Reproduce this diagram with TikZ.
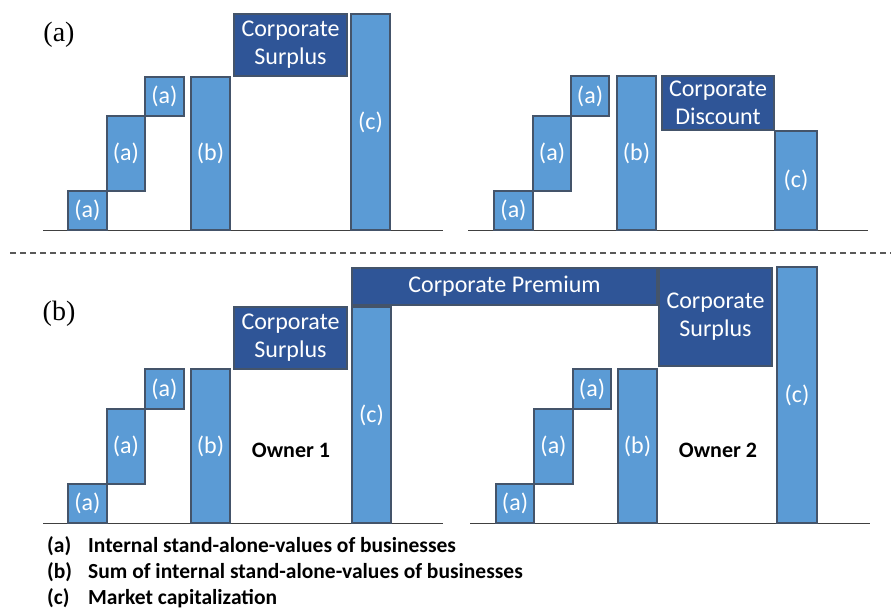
\documentclass[tikz,border=0pt]{standalone}
\usepackage{fontspec}
\setmainfont{Carlito}
\newfontfamily\seriffont{Liberation Serif}
\definecolor{lightbar}{HTML}{5B9BD5}
\definecolor{darkbox}{HTML}{2F5597}
\definecolor{edge}{HTML}{44546A}
\definecolor{dashgray}{HTML}{595959}
\begin{document}
\begin{tikzpicture}[x=1pt,y=-1pt,
  bar/.style={draw=edge, line width=1.5pt, fill=lightbar, text=white, inner sep=0pt, outer sep=0pt, anchor=south west, font=\fontsize{24}{28}\selectfont},
  dbox/.style={draw=edge, line width=1.5pt, fill=darkbox, text=white, inner sep=0pt, outer sep=0pt, anchor=north west, align=center, font=\fontsize{24}{28}\selectfont},
  ground/.style={draw=black!75, line width=1pt},
  panellabel/.style={font=\seriffont\fontsize{28}{32}\selectfont, anchor=center},
  owner/.style={font=\bfseries\fontsize{22}{26}\selectfont, anchor=center},
  legend/.style={font=\bfseries\fontsize{21.5}{24}\selectfont, anchor=base west, inner sep=0pt}
]
\useasboundingbox (0,0) rectangle (891,610);

% ---------- panel (a) left ----------
\node[panellabel] (lbla) at (59,35) {(a)};
\coordinate (g1s) at (43,230); \coordinate (g1e) at (443,230);
\draw[ground] (g1s) -- (g1e);
\node[bar, minimum width=39pt, minimum height=39pt] (p1a1) at (68,230) {(a)};
\node[bar, minimum width=38pt, minimum height=75pt] (p1a2) at (107,191) {(a)};
\node[bar, minimum width=39pt, minimum height=39pt] (p1a3) at (145,116) {(a)};
\node[bar, minimum width=39pt, minimum height=153pt] (p1b) at (191,230) {(b)};
\node[dbox, minimum width=113pt, minimum height=62pt] (p1s) at (234,14) {Corporate\\Surplus};
\node[bar, minimum width=39pt, minimum height=216pt] (p1c) at (351,230) {(c)};

% ---------- panel (a) right ----------
\coordinate (g2s) at (468,230); \coordinate (g2e) at (868,230);
\draw[ground] (g2s) -- (g2e);
\node[bar, minimum width=39pt, minimum height=39pt] (p2a1) at (494,230) {(a)};
\node[bar, minimum width=38pt, minimum height=75pt] (p2a2) at (533,191) {(a)};
\node[bar, minimum width=38pt, minimum height=40pt] (p2a3) at (571,116) {(a)};
\node[bar, minimum width=39pt, minimum height=154pt] (p2b) at (617,230) {(b)};
\node[dbox, minimum width=112pt, minimum height=54pt] (p2d) at (662,76) {Corporate\\Discount};
\node[bar, minimum width=42pt, minimum height=99pt] (p2c) at (775,230) {(c)};

% ---------- separator ----------
\coordinate (sepl) at (10,253); \coordinate (sepr) at (891,253);
\draw[dashgray, line width=1.3pt, dash pattern=on 6pt off 4pt] (sepl) -- (sepr);

% ---------- panel (b) left ----------
\node[panellabel] (lblb) at (59,314) {(b)};
\coordinate (g3s) at (43,523); \coordinate (g3e) at (443,523);
\draw[ground] (g3s) -- (g3e);
\node[bar, minimum width=39pt, minimum height=39pt] (p3a1) at (68,523) {(a)};
\node[bar, minimum width=38pt, minimum height=75pt] (p3a2) at (107,484) {(a)};
\node[bar, minimum width=39pt, minimum height=40pt] (p3a3) at (145,409) {(a)};
\node[bar, minimum width=39pt, minimum height=154pt] (p3b) at (191,523) {(b)};
\node[dbox, minimum width=113pt, minimum height=62pt] (p3s) at (234,307) {Corporate\\Surplus};
\node[owner] (own1) at (291,450) {Owner 1};
\node[bar, minimum width=39pt, minimum height=216pt] (p3c) at (352,523) {(c)};

% ---------- corporate premium ----------
\node[dbox, minimum width=305pt, minimum height=37pt] (prem) at (352,268) {Corporate Premium};

% ---------- panel (b) right ----------
\coordinate (g4s) at (470,523); \coordinate (g4e) at (870,523);
\draw[ground] (g4s) -- (g4e);
\node[bar, minimum width=38pt, minimum height=39pt] (p4a1) at (496,523) {(a)};
\node[bar, minimum width=39pt, minimum height=75pt] (p4a2) at (534,484) {(a)};
\node[bar, minimum width=38pt, minimum height=40pt] (p4a3) at (573,409) {(a)};
\node[bar, minimum width=39pt, minimum height=154pt] (p4b) at (618,523) {(b)};
\node[dbox, minimum width=113pt, minimum height=98pt] (p4s) at (659,268) {Corporate\\Surplus};
\node[owner] (own2) at (718,450) {Owner 2};
\node[bar, minimum width=40pt, minimum height=256pt] (p4c) at (777,523) {(c)};

% ---------- legend ----------
\node[legend] (la) at (47,552) {(a)};
\node[legend] (lat) at (88,552) {Internal stand-alone-values of businesses};
\node[legend] (lb) at (47,578) {(b)};
\node[legend] (lbt) at (88,578) {Sum of internal stand-alone-values of businesses};
\node[legend] (lc) at (47,604) {(c)};
\node[legend] (lct) at (88,604) {Market capitalization};
\end{tikzpicture}
\end{document}
